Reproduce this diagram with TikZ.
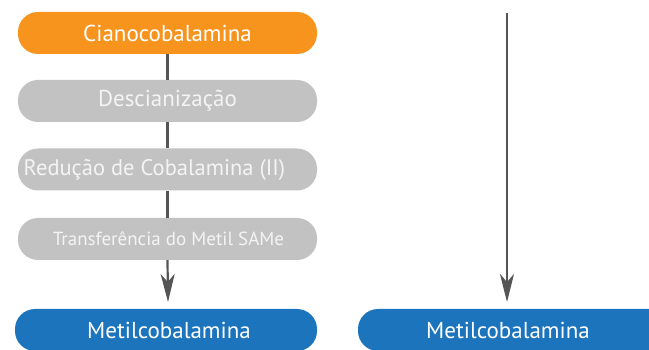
\documentclass[tikz,border=0pt]{standalone}
\usepackage{fontspec}
\setmainfont{PT Sans}
\usetikzlibrary{arrows.meta}
\definecolor{orng}{HTML}{F7941E}
\definecolor{grybox}{HTML}{C2C2C2}
\definecolor{grytxt}{HTML}{F4F4F4}
\definecolor{blu}{HTML}{1C75BC}
\definecolor{lin}{HTML}{555555}
\begin{document}
\begin{tikzpicture}[x=1pt,y=-1pt,
  boxstyle/.style={rounded corners=20pt, minimum width=299pt, minimum height=42pt, inner sep=0pt, text=white},
  orangebox/.style={boxstyle, fill=orng},
  graybox/.style={boxstyle, fill=grybox, text=grytxt},
  bluebox/.style={boxstyle, fill=blu},
  bigfont/.style={font=\fontsize{23}{26}\selectfont},
  conn/.style={draw=lin, line width=2.2pt},
  arr/.style={conn, -{Stealth[length=28pt,width=14pt,inset=8pt]}}
]
\useasboundingbox (0,0) rectangle (649,350);
\clip (0,0) rectangle (649,350);
\coordinate (tipL) at (168,302);
\coordinate (topR) at (507,13);
\coordinate (tipR) at (507,302);
\node[orangebox, bigfont] (cia) at (167.5,33) {Cianocobalamina};
\node[graybox, bigfont] (des) at (167.5,101) {Descianização};
\node[graybox, font=\fontsize{22.5}{26}\selectfont] (red) at (167.5,169.5) {\hspace*{-26pt}Redução de Cobalamina (II)};
\node[graybox, font=\fontsize{19}{22}\selectfont] (tra) at (167.5,239) {\hspace*{2pt}Transferência do Metil SAMe};
\node[bluebox, minimum width=302pt, bigfont] (metL) at (166,330) {\hspace*{6pt}Metilcobalamina};
\node[bluebox, minimum width=320pt, bigfont] (metR) at (518,330) {\hspace*{-20pt}Metilcobalamina};
\draw[conn] (cia.south) -- (des.north);
\draw[conn] (des.south) -- (red.north);
\draw[conn] (red.south) -- (tra.north);
\draw[arr] (tra.south) -- (tipL);
\draw[arr] (topR) -- (tipR);
\end{tikzpicture}
\end{document}
